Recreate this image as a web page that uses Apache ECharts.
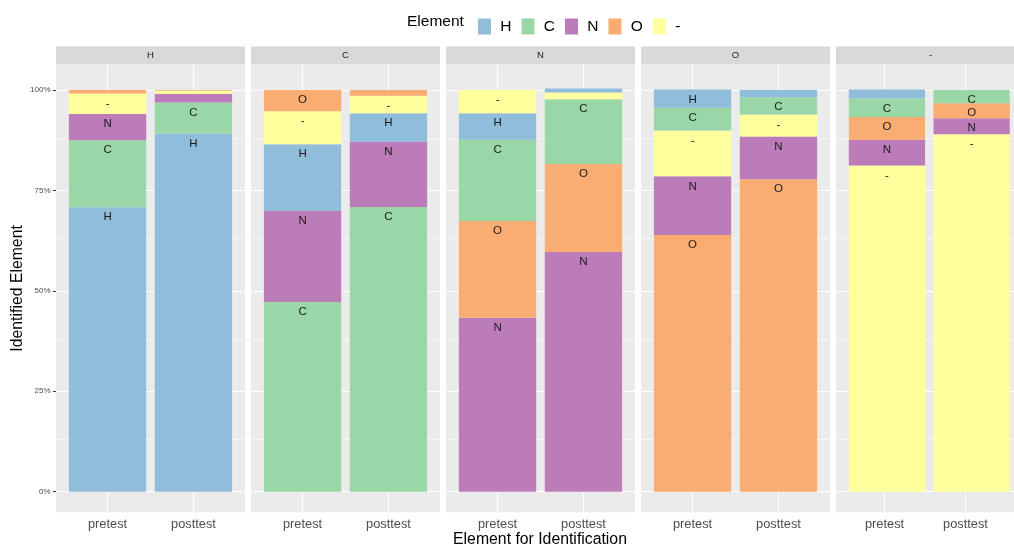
<!DOCTYPE html>
<html>
<head>
<meta charset="utf-8">
<script src="https://cdn.jsdelivr.net/npm/echarts@6/dist/echarts.min.js"></script>
<style>
  html, body { margin: 0; padding: 0; background: #fff; }
  #chart { width: 1014px; height: 545px; }
</style>
</head>
<body>
<div id="chart"></div>
<script>
// Identified element vs. element shown, before and after instruction
const elements = ['H', 'C', 'N', 'O', '-'];
const facets = ['H', 'C', 'N', 'O', '-'];
const times = ['pretest', 'posttest'];
const yTicks = [0, 0.25, 0.5, 0.75, 1];
const yTickLabels = ['0%', '25%', '50%', '75%', '100%'];

// Share of answers per identified element, ordered as in `elements`
const preH = [0.708, 0.167, 0.065, 0.009, 0.051];
const postH = [0.892, 0.077, 0.021, 0.002, 0.008];
const preC = [0.166, 0.472, 0.227, 0.053, 0.082];
const postC = [0.071, 0.709, 0.162, 0.014, 0.044];
const preN = [0.066, 0.202, 0.433, 0.241, 0.058];
const postN = [0.010, 0.161, 0.597, 0.219, 0.017];
const preO = [0.045, 0.057, 0.146, 0.639, 0.114];
const postO = [0.018, 0.043, 0.106, 0.778, 0.055];
const preDash = [0.022, 0.046, 0.064, 0.057, 0.812];
const postDash = [0.000, 0.033, 0.040, 0.037, 0.890];

const colors = { 'H': '#8FBDDA', 'C': '#99D7A6', 'N': '#BC7CB9', 'O': '#FAAD72', '-': '#FFFF9E' };
const FONT = '"Liberation Sans", Arial, Helvetica, sans-serif';

const shares = [[preH, postH], [preC, postC], [preN, postN], [preO, postO], [preDash, postDash]];

// panel geometry: discrete scale spans 0.4 .. 2.6 across the panel
const PANEL_LEFT = 56, PANEL_W = 189, PANEL_STEP = 195;
const PANEL_TOP = 64.5, PANEL_H = 447.8;
const Y_MIN = -0.0513, Y_MAX = 1.0635;
const UNIT = PANEL_W / 2.2;
const N = facets.length;

const grids = [], xAxes = [], yAxes = [], series = [], graphics = [];

// background panels with axes and grid lines
facets.forEach(function (facet, i) {
  const left = PANEL_LEFT + i * PANEL_STEP;
  grids.push({
    left: left, top: PANEL_TOP, width: PANEL_W, height: PANEL_H,
    show: true, backgroundColor: '#EBEBEB', borderWidth: 0
  });
  xAxes.push({
    gridIndex: i, type: 'value', min: 0.4, max: 2.6,
    axisLine: { show: false },
    splitLine: { show: false },
    axisTick: { show: true, customValues: [1, 2], length: 3, lineStyle: { color: '#333', width: 1 } },
    axisLabel: {
      show: true, customValues: [1, 2], margin: 6,
      formatter: function (v) { return times[Math.round(v) - 1]; },
      fontSize: 12.8, color: '#4D4D4D', fontFamily: FONT
    }
  });
  yAxes.push({
    gridIndex: i, type: 'value', min: Y_MIN, max: Y_MAX,
    axisLine: { show: false },
    splitLine: { show: false },
    axisTick: { show: i === 0, customValues: yTicks, length: 3, lineStyle: { color: '#333', width: 1 } },
    axisLabel: {
      show: i === 0, customValues: yTicks, margin: 5.5,
      formatter: function (v) { return yTickLabels[yTicks.indexOf(Math.round(v * 100) / 100)]; },
      fontSize: 8, color: '#4D4D4D', fontFamily: FONT
    }
  });

  const lines = [];
  yTicks.forEach(function (v) { lines.push({ yAxis: v, lineStyle: { width: 1.1 } }); });
  [0.125, 0.375, 0.625, 0.875].forEach(function (v) { lines.push({ yAxis: v, lineStyle: { width: 0.55 } }); });
  [1, 2].forEach(function (v) { lines.push({ xAxis: v, lineStyle: { width: 1.1 } }); });
  series.push({
    type: 'line', xAxisIndex: i, yAxisIndex: i, data: [], silent: true,
    markLine: {
      silent: true, symbol: 'none', z: 1, animation: false,
      label: { show: false },
      lineStyle: { color: '#FFFFFF', type: 'solid' },
      emphasis: { disabled: true },
      data: lines
    }
  });

  // facet strip
  graphics.push({
    type: 'rect', shape: { x: left, y: 46.5, width: PANEL_W, height: 18 },
    style: { fill: '#D9D9D9' }, silent: true
  });
  graphics.push({
    type: 'text', x: left + PANEL_W / 2, y: 55.5,
    style: { text: facet, fill: '#1A1A1A', fontSize: 9.5, fontFamily: FONT, align: 'center', verticalAlign: 'middle' },
    silent: true
  });
});

// bar layers, one category grid per panel
facets.forEach(function (facet, i) {
  const left = PANEL_LEFT + i * PANEL_STEP;
  const gi = N + i;
  grids.push({
    left: left + 0.1 * UNIT, top: PANEL_TOP, width: 2 * UNIT, height: PANEL_H,
    show: false
  });
  xAxes.push({
    gridIndex: gi, type: 'category', data: times,
    axisLine: { show: false }, axisTick: { show: false }, axisLabel: { show: false }, splitLine: { show: false }
  });
  yAxes.push({
    gridIndex: gi, type: 'value', min: Y_MIN, max: Y_MAX,
    axisLine: { show: false }, axisTick: { show: false }, axisLabel: { show: false }, splitLine: { show: false }
  });

  // stacking order: largest share at the bottom of each bar
  const order = shares[i].map(function (vals) {
    return vals.map(function (_, k) { return k; }).sort(function (a, b) { return vals[b] - vals[a]; });
  });
  for (let r = 0; r < elements.length; r++) {
    const data = times.map(function (t, ti) {
      const k = order[ti][r];
      const v = shares[i][ti][k];
      const name = elements[k];
      return {
        value: v,
        itemStyle: { color: colors[name] },
        label: { show: v >= 0.03, formatter: name }
      };
    });
    series.push({
      type: 'bar', xAxisIndex: gi, yAxisIndex: gi, stack: 'panel' + i,
      barWidth: '90%', z: 2, data: data,
      emphasis: { disabled: true },
      label: {
        position: 'insideTop', distance: 4,
        fontSize: 11.5, color: '#1A1A1A', fontFamily: FONT
      }
    });
  }
});

// legend entries
elements.forEach(function (name) {
  series.push({
    type: 'bar', name: name, xAxisIndex: N, yAxisIndex: N, stack: 'panel0',
    barWidth: '90%', data: [], itemStyle: { color: colors[name] }
  });
});

graphics.push({
  type: 'text', x: 407, y: 21.5,
  style: { text: 'Element', fill: '#000', fontSize: 15.5, fontFamily: FONT, align: 'left', verticalAlign: 'middle' },
  silent: true
});
graphics.push({
  type: 'text', x: 540, y: 539.5,
  style: { text: 'Element for Identification', fill: '#000', fontSize: 15.8, fontFamily: FONT, align: 'center', verticalAlign: 'middle' },
  silent: true
});
graphics.push({
  type: 'text', x: 18, y: PANEL_TOP + PANEL_H / 2, rotation: Math.PI / 2,
  style: { text: 'Identified Element', fill: '#000', fontSize: 15.8, fontFamily: FONT, align: 'center', verticalAlign: 'middle' },
  silent: true
});

const chart = echarts.init(document.getElementById('chart'), null, { renderer: 'canvas' });
chart.setOption({
  animation: false,
  backgroundColor: '#FFFFFF',
  grid: grids,
  xAxis: xAxes,
  yAxis: yAxes,
  legend: {
    left: 473, top: 13.5, orient: 'horizontal',
    icon: 'rect', itemWidth: 13, itemHeight: 16, itemGap: 10,
    selectedMode: false,
    data: elements,
    formatter: function (n) { return ' ' + n; },
    textStyle: { fontSize: 15.5, color: '#000', fontFamily: FONT }
  },
  graphic: graphics,
  series: series
});
</script>
</body>
</html>
